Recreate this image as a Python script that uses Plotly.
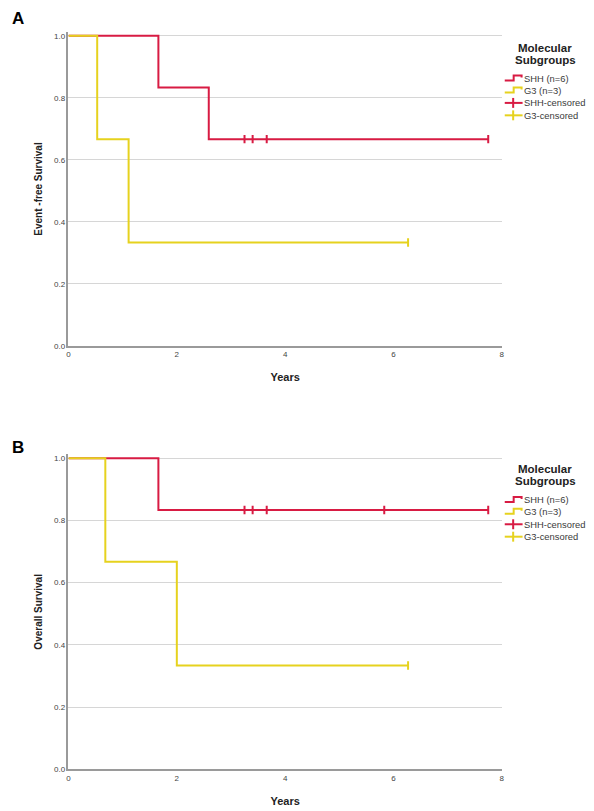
import plotly.graph_objects as go

# ---------------- data ----------------
# Panel A: Event-free survival
efs_shh_t = [0, 1.66, 2.59, 7.75]
efs_shh_s = [1.0, 0.8333, 0.6667, 0.6667]
efs_shh_cens_t = [3.25, 3.40, 3.66, 7.75]
efs_shh_cens_s = [0.6667, 0.6667, 0.6667, 0.6667]

efs_g3_t = [0, 0.53, 1.11, 6.27]
efs_g3_s = [1.0, 0.6667, 0.3333, 0.3333]
efs_g3_cens_t = [6.27]
efs_g3_cens_s = [0.3333]

# Panel B: Overall survival
os_shh_t = [0, 1.66, 7.75]
os_shh_s = [1.0, 0.8333, 0.8333]
os_shh_cens_t = [3.25, 3.40, 3.66, 5.83, 7.75]
os_shh_cens_s = [0.8333, 0.8333, 0.8333, 0.8333, 0.8333]

os_g3_t = [0, 0.68, 2.0, 6.27]
os_g3_s = [1.0, 0.6667, 0.3333, 0.3333]
os_g3_cens_t = [6.27]
os_g3_cens_s = [0.3333]

x_ticks = [0, 2, 4, 6, 8]
y_ticks = [0.0, 0.2, 0.4, 0.6, 0.8, 1.0]
legend_title = ["Molecular", "Subgroups"]
legend_labels = ["SHH (n=6)", "G3 (n=3)", "SHH-censored", "G3-censored"]

RED = "#D81B43"
YEL = "#E6D21E"
OX, OY = 8, 8           # page body margin
W, H = 586, 803
FONT = "Liberation Sans, Arial, sans-serif"

fig = go.Figure()

def add_panel(xa, ya, shh_t, shh_s, shh_ct, shh_cs, g3_t, g3_s, g3_ct, g3_cs):
    fig.add_trace(go.Scatter(x=shh_t, y=shh_s, mode="lines", line=dict(color=RED, width=2, shape="hv"),
                             xaxis=xa, yaxis=ya, showlegend=False, hoverinfo="skip"))
    fig.add_trace(go.Scatter(x=g3_t, y=g3_s, mode="lines", line=dict(color=YEL, width=2, shape="hv"),
                             xaxis=xa, yaxis=ya, showlegend=False, hoverinfo="skip"))
    fig.add_trace(go.Scatter(x=shh_ct, y=shh_cs, mode="markers",
                             marker=dict(symbol="line-ns", size=6, line=dict(color=RED, width=2)),
                             xaxis=xa, yaxis=ya, showlegend=False, hoverinfo="skip"))
    fig.add_trace(go.Scatter(x=g3_ct, y=g3_cs, mode="markers",
                             marker=dict(symbol="line-ns", size=6, line=dict(color=YEL, width=2)),
                             xaxis=xa, yaxis=ya, showlegend=False, hoverinfo="skip"))

add_panel("x", "y", efs_shh_t, efs_shh_s, efs_shh_cens_t, efs_shh_cens_s,
          efs_g3_t, efs_g3_s, efs_g3_cens_t, efs_g3_cens_s)
add_panel("x2", "y2", os_shh_t, os_shh_s, os_shh_cens_t, os_shh_cens_s,
          os_g3_t, os_g3_s, os_g3_cens_t, os_g3_cens_s)

def px(x):
    return (x - OX) / W

def py(y):
    return 1 - (y - OY) / H

YTOP = 1.012
xdom = [px(67), px(504)]
ydomA = [py(348), py(36 - 312 * (YTOP - 1))]
ydomB = [py(774), py(461 - 313 * (YTOP - 1))]

xcommon = dict(range=[0, 8], tickvals=x_ticks, ticktext=[str(v) for v in x_ticks],
               showgrid=False, zeroline=False, showline=True, linecolor="#9a9a9a", linewidth=2,
               ticks="", tickfont=dict(size=8, color="#444", family=FONT), fixedrange=True,
               title=dict(text="Years", font=dict(size=11, color="#222", family=FONT, weight="bold"),
                          standoff=15))
ycommon = dict(range=[0, YTOP], tickvals=y_ticks, ticktext=["%.1f" % v for v in y_ticks],
               showgrid=True, gridcolor="#d6d6d6", gridwidth=1, zeroline=False,
               showline=True, linecolor="#9a9a9a", linewidth=1.5, ticks="",
               tickfont=dict(size=8, color="#444", family=FONT), fixedrange=True)

fig.update_layout(
    width=W, height=H,
    margin=dict(l=0, r=0, t=0, b=0),
    paper_bgcolor="white", plot_bgcolor="white",
    showlegend=False,
    font=dict(family=FONT),
    xaxis=dict(domain=xdom, anchor="y", **xcommon),
    yaxis=dict(domain=ydomA, anchor="x", **ycommon,
               title=dict(text="Event -free Survival",
                          font=dict(size=10, color="#222", family=FONT, weight="bold"), standoff=10)),
    xaxis2=dict(domain=xdom, anchor="y2", **xcommon),
    yaxis2=dict(domain=ydomB, anchor="x2", **ycommon,
                title=dict(text="Overall Survival",
                           font=dict(size=10, color="#222", family=FONT, weight="bold"), standoff=10)),
)

annotations = []
shapes = []

# panel letters
for letter, y in [("A", 19), ("B", 450)]:
    annotations.append(dict(text=letter, x=px(8), y=py(y), xref="paper", yref="paper",
                            xanchor="left", yanchor="middle", showarrow=False,
                            font=dict(size=17, color="black", family=FONT, weight="bold")))

def add_legend(top):
    for j, t in enumerate(legend_title):
        annotations.append(dict(text=t, x=px(548), y=py(top + 12 * j), xref="paper", yref="paper",
                                xanchor="center", yanchor="middle", showarrow=False,
                                font=dict(size=11.5, color="#222", family=FONT, weight="bold")))
    rows = [top + 31, top + 43, top + 55.5, top + 68]
    colors = [RED, YEL, RED, YEL]
    for i, (lab, yy, col) in enumerate(zip(legend_labels, rows, colors)):
        annotations.append(dict(text=lab, x=px(524), y=py(yy), xref="paper", yref="paper",
                                xanchor="left", yanchor="middle", showarrow=False,
                                font=dict(size=9.4, color="#3a3a3a", family=FONT)))
        if i < 2:
            path = "M %f %f L %f %f L %f %f L %f %f L %f %f" % (
                px(507), py(yy + 2), px(516), py(yy + 2), px(516), py(yy - 3),
                px(524), py(yy - 3), px(524), py(yy - 1))
            shapes.append(dict(type="path", path=path, xref="paper", yref="paper",
                               line=dict(color=col, width=2)))
        else:
            shapes.append(dict(type="line", x0=px(507), x1=px(525), y0=py(yy), y1=py(yy),
                               xref="paper", yref="paper", line=dict(color=col, width=2)))
            shapes.append(dict(type="line", x0=px(515.5), x1=px(515.5), y0=py(yy - 5), y1=py(yy + 5),
                               xref="paper", yref="paper", line=dict(color=col, width=2)))

add_legend(48)
add_legend(472)

fig.update_layout(annotations=annotations, shapes=shapes)
fig.write_html("out.html")
